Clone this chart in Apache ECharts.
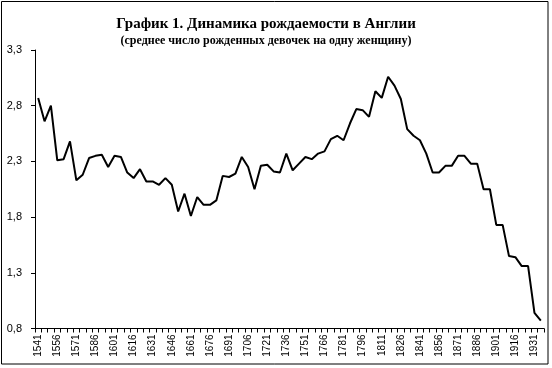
<!DOCTYPE html>
<html>
<head>
<meta charset="utf-8">
<script src="https://cdn.jsdelivr.net/npm/echarts@6/dist/echarts.min.js"></script>
<style>
html,body{margin:0;padding:0;background:#fff;}
#chart{width:552px;height:368px;}
</style>
</head>
<body>
<div id="chart"></div>
<script>
var titleText = 'График 1. Динамика рождаемости в Англии';
var subtitleText = '(среднее число рожденных девочек на одну женщину)';

var years = [
  '1541','1546','1551','1556','1561','1566','1571','1576','1581','1586',
  '1591','1596','1601','1606','1611','1616','1621','1626','1631','1636',
  '1641','1646','1651','1656','1661','1666','1671','1676','1681','1686',
  '1691','1696','1701','1706','1711','1716','1721','1726','1731','1736',
  '1741','1746','1751','1756','1761','1766','1771','1776','1781','1786',
  '1791','1796','1801','1806','1811','1816','1821','1826','1831','1836',
  '1841','1846','1851','1856','1861','1866','1871','1876','1881','1886',
  '1891','1896','1901','1906','1911','1916','1921','1926','1931','1936'
];

var grr = [
  2.87,2.66,2.80,2.31,2.32,2.48,2.13,2.18,2.33,2.35,
  2.36,2.25,2.35,2.34,2.20,2.15,2.23,2.12,2.12,2.09,
  2.15,2.09,1.85,2.01,1.81,1.98,1.91,1.91,1.95,2.17,
  2.16,2.19,2.34,2.25,2.05,2.26,2.27,2.21,2.20,2.37,
  2.22,2.28,2.34,2.32,2.37,2.39,2.50,2.53,2.49,2.64,
  2.77,2.76,2.70,2.93,2.87,3.06,2.98,2.86,2.59,2.53,
  2.49,2.37,2.20,2.20,2.26,2.26,2.35,2.35,2.28,2.28,
  2.05,2.05,1.73,1.73,1.45,1.44,1.36,1.36,0.94,0.87
];

var yTicks = [0.8, 1.3, 1.8, 2.3, 2.8, 3.3];

var chart = echarts.init(document.getElementById('chart'), null, {renderer: 'canvas'});
chart.setOption({
  animation: false,
  backgroundColor: '#ffffff',
  title: {
    text: titleText,
    subtext: subtitleText,
    left: 261,
    top: 12,
    textAlign: 'center',
    itemGap: 3,
    textStyle: {
      fontFamily: 'Liberation Serif',
      fontWeight: 'bold',
      fontSize: 15,
      color: '#000'
    },
    subtextStyle: {
      fontFamily: 'Liberation Serif',
      fontWeight: 'bold',
      fontSize: 12,
      color: '#000'
    }
  },
  graphic: [{
    type: 'rect',
    shape: {x: 1.5, y: 1.5, width: 546.5, height: 362.5},
    style: {fill: 'none', stroke: '#000', lineWidth: 1},
    silent: true
  }],
  grid: {left: 35, right: 8, top: 50, bottom: 39.5},
  xAxis: {
    type: 'category',
    data: years,
    boundaryGap: true,
    axisLine: {lineStyle: {color: '#000', width: 1}},
    axisTick: {show: true, interval: 0, length: 4, lineStyle: {color: '#000'}},
    axisLabel: {
      interval: 2,
      rotate: 90,
      margin: 6,
      fontFamily: 'Liberation Sans',
      fontSize: 10,
      color: '#000'
    },
    splitLine: {show: false}
  },
  yAxis: {
    type: 'value',
    min: 0.8,
    max: 3.3,
    axisLine: {show: true, lineStyle: {color: '#000', width: 1}},
    axisTick: {show: true, length: 4, customValues: yTicks, lineStyle: {color: '#000'}},
    axisLabel: {
      customValues: yTicks,
      margin: 13,
      fontFamily: 'Liberation Sans',
      fontSize: 11,
      color: '#000',
      formatter: function (v) { return v.toFixed(1).replace('.', ','); }
    },
    splitLine: {show: false}
  },
  series: [{
    type: 'line',
    data: grr,
    showSymbol: false,
    smooth: false,
    lineStyle: {color: '#000', width: 2},
    itemStyle: {color: '#000'}
  }]
});
</script>
</body>
</html>
